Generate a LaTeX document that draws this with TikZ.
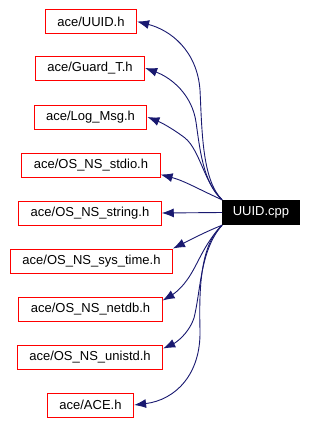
\documentclass[tikz,border=0pt]{standalone}
\usepackage{fontspec}
\setmainfont{Liberation Sans}
\usepackage{tikz}
\usetikzlibrary{arrows.meta}
\definecolor{EdgeBlue}{RGB}{25,25,112}
\definecolor{BoxRed}{RGB}{255,0,0}

\begin{document}
\begin{tikzpicture}[x=1pt,y=-1pt,>={Latex[length=12pt,width=9pt]},
    header/.style={draw=BoxRed,line width=1pt,inner xsep=12pt,minimum height=24pt,
      font=\fontsize{13}{15}\selectfont},
    source/.style={fill=black,text=white,inner xsep=10.5pt,minimum height=25pt,
      font=\fontsize{13}{15}\selectfont},
    dep/.style={->,EdgeBlue,line width=0.9pt}]
      \useasboundingbox (0,0) rectangle (308,423);
      \node[header] (uuidh) at (91,21.5) {ace/UUID.h};
      \node[header] (guardh) at (90,68) {ace/Guard\_T.h};
      \node[header] (logmsgh) at (90.5,117) {ace/Log\_Msg.h};
      \node[header] (stdioh) at (91,165) {ace/OS\_NS\_stdio.h};
      \node[header] (stringh) at (90,213) {ace/OS\_NS\_string.h};
      \node[header] (systimeh) at (91.5,261) {ace/OS\_NS\_sys\_time.h};
      \node[header] (netdbh) at (90.5,309) {ace/OS\_NS\_netdb.h};
      \node[header] (unistdh) at (90,357) {ace/OS\_NS\_unistd.h};
      \node[header] (aceh) at (90.5,405) {ace/ACE.h};
      \node[source] (cpp) at (261,212.5) {UUID.cpp};
      % includes above the source
      \draw[dep] (cpp.north west) .. controls (202,180) and (202,130) .. (200,90)
        .. controls (197,50) and (170,30) .. (uuidh.east);
      \draw[dep] (cpp.north west) .. controls (203,182) and (200,150) .. (196,122)
        .. controls (192,95) and (172,78) .. (guardh.east);
      \draw[dep] (cpp.north west) .. controls (205,185) and (200,150) .. (185,138)
        .. controls (172,128) and (160,122) .. (logmsgh.east);
      \draw[dep] (cpp.north west) .. controls (200,190) and (185,181) .. ([yshift=3pt]stdioh.south east);
      \draw[dep] (cpp.west) -- (stringh.east);
      % includes below the source
      \draw[dep] (cpp.south west) .. controls (205,232) and (190,240) .. (systimeh.north east);
      \draw[dep] (cpp.south west) .. controls (203,245) and (198,265) .. (187,280)
        .. controls (180,290) and (172,295) .. ([yshift=-4pt]netdbh.north east);
      \draw[dep] (cpp.south west) .. controls (200,250) and (201,290) .. (194,318)
        .. controls (188,335) and (175,343) .. ([yshift=-4pt]unistdh.north east);
      \draw[dep] (cpp.south west) .. controls (200,245) and (199,290) .. (200,330)
        .. controls (201,375) and (175,400) .. (aceh.east);
    \end{tikzpicture}
\end{document}
